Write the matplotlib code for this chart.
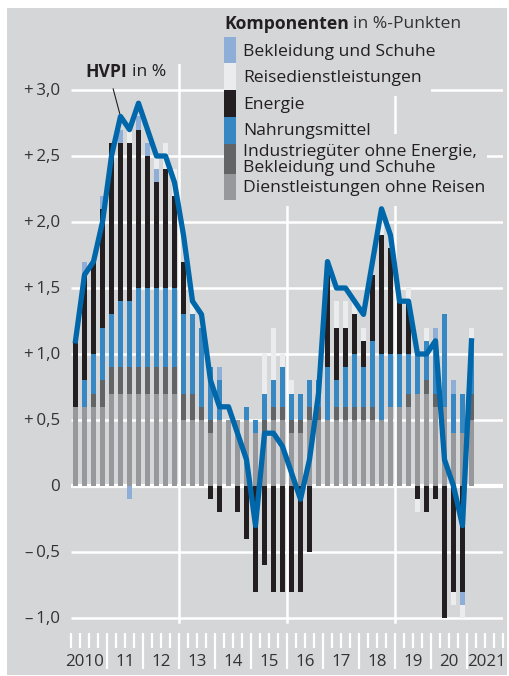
import numpy as np
import matplotlib.pyplot as plt
from matplotlib.patches import Rectangle

# Quartale 2010 Q1 bis 2021 Q1
hvpi = [1.1, 1.6, 1.7, 2.0, 2.5, 2.8, 2.7, 2.9, 2.7, 2.5, 2.5, 2.3,
        1.9, 1.4, 1.3, 0.8, 0.6, 0.6, 0.4, 0.2, -0.3, 0.4, 0.4, 0.3,
        0.1, -0.1, 0.2, 0.7, 1.7, 1.5, 1.5, 1.4, 1.3, 1.7, 2.1, 1.9,
        1.4, 1.4, 1.0, 1.0, 1.1, 0.2, 0.0, -0.3, 1.1]

dienst = [0.6, 0.6, 0.6, 0.6, 0.7, 0.7, 0.7, 0.7, 0.7, 0.7, 0.7, 0.7,
          0.5, 0.5, 0.5, 0.4, 0.5, 0.5, 0.5, 0.5, 0.4, 0.4, 0.5, 0.5,
          0.4, 0.4, 0.5, 0.5, 0.5, 0.5, 0.5, 0.5, 0.5, 0.5, 0.5, 0.6,
          0.6, 0.6, 0.7, 0.7, 0.6, 0.6, 0.4, 0.4, 0.5]
industrie = [0.0, 0.0, 0.1, 0.2, 0.2, 0.2, 0.2, 0.2, 0.2, 0.2, 0.2, 0.2,
             0.2, 0.2, 0.1, 0.1, 0.0, 0.0, 0.0, 0.0, 0.0, 0.1, 0.1, 0.1,
             0.1, 0.1, 0.1, 0.1, 0.0, 0.1, 0.1, 0.1, 0.1, 0.1, 0.0, 0.0,
             0.0, 0.1, 0.0, 0.1, 0.1, 0.0, 0.0, 0.0, 0.2]
nahrung = [0.0, 0.2, 0.3, 0.4, 0.4, 0.5, 0.5, 0.6, 0.6, 0.6, 0.6, 0.6,
           0.6, 0.6, 0.6, 0.4, 0.3, 0.0, 0.0, 0.1, 0.1, 0.2, 0.2, 0.3,
           0.2, 0.2, 0.2, 0.2, 0.4, 0.2, 0.3, 0.4, 0.3, 0.5, 0.5, 0.4,
           0.4, 0.3, 0.3, 0.3, 0.4, 0.7, 0.3, 0.3, 0.4]
energie = [0.5, 0.8, 0.7, 0.9, 1.3, 1.2, 1.2, 1.2, 1.0, 0.8, 0.9, 0.7,
           0.4, 0.0, 0.0, -0.1, -0.2, 0.0, -0.2, -0.4, -0.8, -0.6, -0.8, -0.8,
           -0.8, -0.8, -0.5, 0.0, 0.8, 0.4, 0.3, 0.3, 0.2, 0.5, 0.9, 0.8,
           0.4, 0.4, -0.1, -0.2, -0.1, -1.0, -0.8, -0.8, 0.0]
bekleidung = [0.0, 0.1, 0.0, 0.1, 0.0, 0.1, -0.1, 0.1, 0.1, 0.1, 0.0, 0.0,
              0.0, 0.0, 0.0, 0.0, 0.1, 0.0, 0.0, 0.0, 0.0, 0.0, 0.0, 0.0,
              0.0, 0.0, 0.0, 0.0, 0.0, 0.0, 0.0, 0.0, 0.0, 0.0, 0.0, 0.0,
              0.0, 0.0, 0.0, 0.0, 0.1, 0.0, 0.1, -0.1, 0.0]
reisen = [0.0, 0.0, 0.0, 0.0, 0.0, 0.0, 0.1, 0.0, 0.0, 0.1, 0.2, 0.2,
          0.0, 0.1, 0.0, 0.0, 0.0, 0.0, 0.0, 0.0, 0.0, 0.3, 0.4, 0.1,
          0.1, 0.0, 0.0, 0.0, 0.0, 0.2, 0.2, 0.1, 0.1, 0.0, 0.1, 0.0,
          0.0, 0.1, -0.1, 0.1, 0.0, 0.0, -0.1, -0.1, 0.1]

jahre = ['2010', '11', '12', '13', '14', '15', '16', '17', '18', '19', '20', '2021']
yticks = [3.0, 2.5, 2.0, 1.5, 1.0, 0.5, 0.0, -0.5, -1.0]
ylabels = ['+\u20093,0', '+\u20092,5', '+\u20092,0', '+\u20091,5', '+\u20091,0',
           '+\u20090,5', '0', '\u2013\u20090,5', '\u2013\u20091,0']

bg = '#d5d6d8'
c_dienst = '#97989b'
c_ind = '#636466'
c_nahr = '#3787c2'
c_energie = '#231f20'
c_reise = '#ebecee'
c_bekl = '#8eaed8'
c_linie = '#0067aa'
c_text = '#333333'

plt.rcParams['font.family'] = ['Open Sans', 'DejaVu Sans']
fs_leg = 12.6
fs_ax = 12.2

W, H = 510, 676
fig = plt.figure(figsize=(W / 100, H / 100), dpi=100, facecolor='white')


def fx(px):
    return px / W


def fy(py):
    return 1 - py / H


fig.patches.append(Rectangle((fx(7), fy(675)), fx(500), 667 / H,
                             transform=fig.transFigure, facecolor=bg,
                             edgecolor='none', zorder=-10))

# Achse: x -0.5..47.5 -> 71..503 px, y: 1.0 = 132 px, 0 bei 486 px
y0, y1 = -1.4, 3.2
ax = fig.add_axes([fx(71), fy(486 - y0 * 132), fx(432), (y1 - y0) * 132 / H])
ax.set_xlim(-0.5, 47.5)
ax.set_ylim(y0, y1)
ax.axis('off')
ax.patch.set_alpha(0)

n = len(hvpi)
x = np.arange(n)

for v in yticks:
    ax.plot([-0.5, 47.5], [v, v], color='white', lw=3.0 if v == 0 else 1.8,
            zorder=1, solid_capstyle='butt')
for xv in [11.5, 23.5, 35.5]:
    ax.plot([xv, xv], [-1.03, 3.2], color='white', lw=1.8, zorder=1)

komps = [(dienst, c_dienst), (industrie, c_ind), (nahrung, c_nahr),
         (energie, c_energie), (bekleidung, c_bekl), (reisen, c_reise)]
pos_base = np.zeros(n)
neg_base = np.zeros(n)
for werte, farbe in komps:
    w = np.array(werte)
    p = np.where(w > 0, w, 0)
    q = np.where(w < 0, w, 0)
    ax.bar(x, p, width=0.6, bottom=pos_base, color=farbe, zorder=2, lw=0)
    ax.bar(x, q, width=0.6, bottom=neg_base, color=farbe, zorder=2, lw=0)
    pos_base += p
    neg_base += q

ax.plot(x, hvpi, color=c_linie, lw=3.8, zorder=4)

# Achsenbeschriftung
for v, lab in zip(yticks, ylabels):
    ax.text(-1.75, v - 0.01, lab, ha='right', va='center', fontsize=fs_ax, color=c_text)

for k in range(49):
    unten = -1.39 if (k % 4 == 0 and 0 < k < 48) else -1.23
    ax.plot([k - 0.5, k - 0.5], [-1.11, unten], color='white', lw=1.6,
            clip_on=False, solid_capstyle='butt')

for j, lab in enumerate(jahre):
    xp = 4 * j + 1.5
    if j == 0:
        xp = 1.0
    if j == len(jahre) - 1:
        xp = 45.7
    ax.text(xp, -1.335, lab, ha='center', va='center', fontsize=fs_ax, color=c_text)

# HVPI-Beschriftung
t1 = fig.text(fx(85), fy(72), 'HVPI', fontsize=fs_leg, fontweight='bold',
              color=c_energie, va='center')
fig.canvas.draw()
r = fig.canvas.get_renderer()
e = t1.get_window_extent(r)
fig.text(e.x1 / W + fx(5), fy(72), 'in %', fontsize=fs_leg, color=c_energie, va='center')
ax.annotate('', xy=(5.0, 2.8), xytext=(4.1, 3.03),
            arrowprops=dict(arrowstyle='-', color=c_energie, lw=0.8))

# Legende
t2 = fig.text(fx(224), fy(24), 'Komponenten', fontsize=fs_leg, fontweight='bold',
              color=c_energie, va='center')
e2 = t2.get_window_extent(r)
fig.text(e2.x1 / W + fx(4), fy(24), 'in %-Punkten', fontsize=fs_leg,
         color=c_text, va='center')

leg = [(c_bekl, 37, 63, 'Bekleidung und Schuhe', 52),
       (c_reise, 63, 90, 'Reisedienstleistungen', 78),
       (c_energie, 90, 117, 'Energie', 105),
       (c_nahr, 117, 144, 'Nahrungsmittel', 131),
       (c_ind, 144, 174, 'Industriegüter ohne Energie,\nBekleidung und Schuhe', 160),
       (c_dienst, 174, 200, 'Dienstleistungen ohne Reisen', 188)]
for farbe, ya, yb, lab, yt in leg:
    fig.patches.append(Rectangle((fx(224), fy(yb)), fx(12), (yb - ya) / H,
                                 transform=fig.transFigure, facecolor=farbe,
                                 edgecolor='none', zorder=5))
    # Hintergrundfeld hinter dem Text, deckt die Gitterlinien ab
    fig.text(fx(243), fy(yt), lab, fontsize=fs_leg, color=(0, 0, 0, 0), va='center',
             linespacing=1.02, zorder=2,
             bbox=dict(facecolor=bg, edgecolor='none', pad=7))
    fig.text(fx(243), fy(yt), lab, fontsize=fs_leg, color=c_energie, va='center',
             linespacing=1.02, zorder=3)

fig.savefig('out.png', dpi=100, facecolor='white')
